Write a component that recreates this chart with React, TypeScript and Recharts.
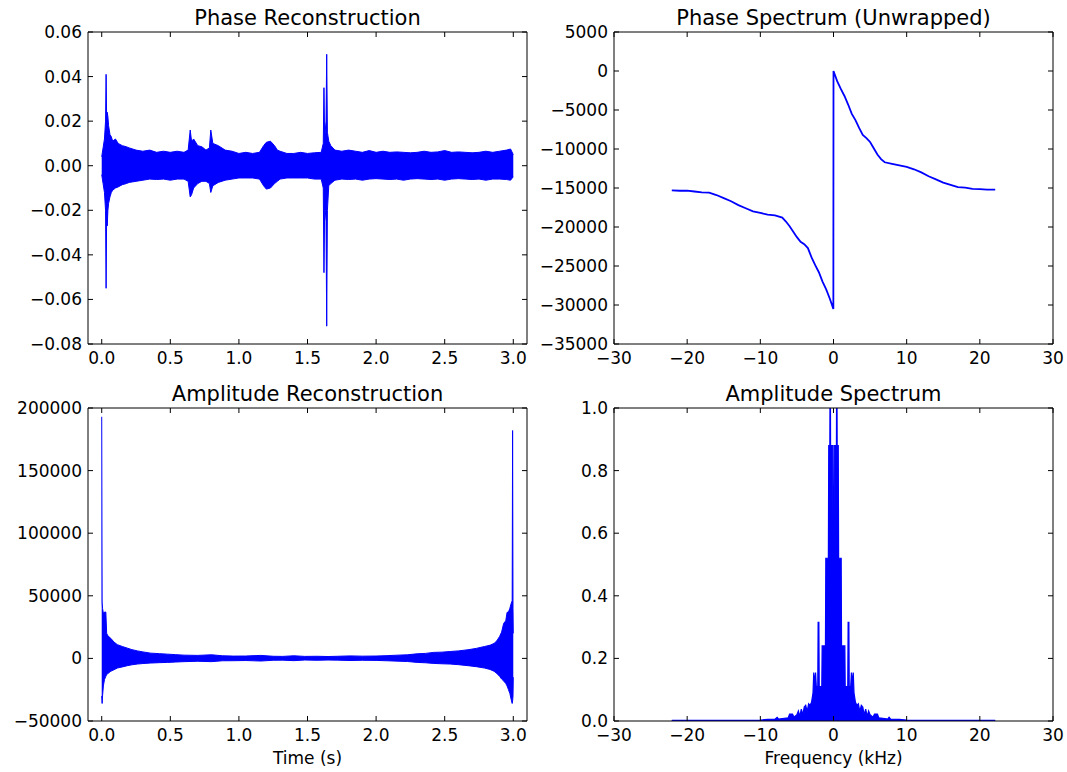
import React from 'react';
import { ComposedChart, Area, Line, XAxis, YAxis } from 'recharts';

const FONT = "'DejaVu Sans', sans-serif";
const BLUE = '#0000ff';

// ---------- Phase Reconstruction (time in s, envelope of the signal) ----------
const phaseTime = [
  0.0, 0.01, 0.02, 0.028, 0.032, 0.036, 0.04, 0.045, 0.05, 0.06,
  0.07, 0.08, 0.1, 0.12, 0.15, 0.18, 0.2, 0.25, 0.3, 0.35,
  0.4, 0.45, 0.5, 0.55, 0.6, 0.63, 0.645, 0.655, 0.67, 0.7,
  0.73, 0.76, 0.785, 0.795, 0.81, 0.85, 0.9, 0.95, 1.0, 1.05,
  1.1, 1.15, 1.18, 1.2, 1.23, 1.26, 1.28, 1.3, 1.35, 1.4,
  1.45, 1.5, 1.55, 1.6, 1.615, 1.62, 1.625, 1.63, 1.635, 1.64,
  1.645, 1.655, 1.67, 1.7, 1.75, 1.8, 1.85, 1.9, 1.95, 2.0,
  2.05, 2.1, 2.15, 2.2, 2.25, 2.3, 2.35, 2.4, 2.45, 2.5,
  2.55, 2.6, 2.65, 2.7, 2.75, 2.8, 2.85, 2.9, 2.95, 2.98, 3.0,
];
const phaseHi = [
  0.004, 0.008, 0.012, 0.02, 0.041, 0.02, 0.024, 0.022, 0.018, 0.014,
  0.013, 0.011, 0.012, 0.01, 0.009, 0.0085, 0.008, 0.007, 0.0065, 0.007,
  0.006, 0.0065, 0.006, 0.0065, 0.006, 0.007, 0.016, 0.011, 0.012, 0.009,
  0.0085, 0.007, 0.008, 0.016, 0.01, 0.009, 0.007, 0.0065, 0.0055, 0.006,
  0.0055, 0.006, 0.009, 0.0105, 0.011, 0.009, 0.007, 0.0065, 0.0055, 0.0055,
  0.006, 0.0055, 0.0058, 0.006, 0.01, 0.035, 0.012, 0.016, 0.02, 0.05,
  0.015, 0.011, 0.009, 0.007, 0.0065, 0.007, 0.0065, 0.006, 0.0068, 0.006,
  0.0065, 0.006, 0.0062, 0.006, 0.0058, 0.006, 0.0065, 0.006, 0.0062, 0.0068,
  0.006, 0.0062, 0.006, 0.0058, 0.006, 0.0065, 0.006, 0.0065, 0.007, 0.0075, 0.005,
];
const phaseLo = [
  -0.004, -0.008, -0.012, -0.02, -0.055, -0.02, -0.027, -0.02, -0.017, -0.014,
  -0.012, -0.011, -0.01, -0.0095, -0.0085, -0.008, -0.0075, -0.007, -0.0065, -0.006,
  -0.0062, -0.006, -0.0065, -0.006, -0.006, -0.007, -0.014, -0.013, -0.01, -0.008,
  -0.007, -0.007, -0.008, -0.012, -0.009, -0.0075, -0.0065, -0.006, -0.0055, -0.0055,
  -0.0055, -0.006, -0.009, -0.0105, -0.01, -0.008, -0.007, -0.006, -0.0055, -0.0055,
  -0.0055, -0.0055, -0.006, -0.006, -0.01, -0.048, -0.02, -0.02, -0.025, -0.072,
  -0.02, -0.009, -0.008, -0.0065, -0.006, -0.0062, -0.006, -0.0065, -0.006, -0.0058,
  -0.006, -0.0062, -0.006, -0.0065, -0.006, -0.0058, -0.006, -0.0062, -0.006, -0.0065,
  -0.006, -0.0058, -0.006, -0.0062, -0.006, -0.0065, -0.006, -0.006, -0.0062, -0.0065, -0.005,
];

// ---------- Phase Spectrum (Unwrapped) ----------
const specFreq = [
  -22.1, -21, -20, -19, -18, -17, -16, -15, -14, -13, -12, -11, -10, -9, -8, -7,
  -6.5, -6, -5.5, -5, -4.5, -4, -3.5, -3, -2.5, -2, -1.5, -1, -0.5, -0.02,
  0, 0.5, 1, 1.5, 2, 2.5, 3, 3.5, 4, 4.5, 5, 5.5, 6, 6.5, 7,
  8, 9, 10, 11, 12, 13, 14, 15, 16, 17, 18, 19, 20, 21, 22.1,
];
const specPhase = [
  -15300, -15350, -15350, -15450, -15550, -15600, -15900, -16300, -16700, -17200, -17600, -18000, -18200, -18400, -18500, -18800,
  -19300, -19900, -20600, -21300, -21900, -22200, -22700, -23900, -24900, -25800, -27000, -28000, -29200, -30500,
  0, -1300, -2300, -3200, -4300, -5500, -6300, -7300, -8200, -8600, -9100, -9900, -10700, -11300, -11700,
  -11900, -12100, -12300, -12600, -13000, -13500, -13900, -14300, -14600, -14900, -14950, -15100, -15150, -15200, -15200,
];

// ---------- Amplitude Reconstruction (envelope) ----------
const ampRecTime = [
  0, 0.003, 0.006, 0.012, 0.02, 0.03, 0.036, 0.045, 0.066, 0.09,
  0.114, 0.15, 0.187, 0.22, 0.26, 0.3, 0.357, 0.42, 0.48, 0.54,
  0.6, 0.7, 0.8, 0.88, 0.96, 1.05, 1.16, 1.25, 1.32, 1.4,
  1.48, 1.57, 1.65, 1.72, 1.81, 1.9, 2.0, 2.08, 2.16, 2.23,
  2.3, 2.36, 2.42, 2.48, 2.54, 2.6, 2.67, 2.73, 2.79, 2.83,
  2.86, 2.88, 2.9, 2.915, 2.93, 2.945, 2.955, 2.965, 2.975, 2.985,
  2.992, 2.995, 2.998, 3.0,
];
const ampRecHi = [
  193000, 45000, 40000, 36000, 37000, 37000, 20000, 18000, 16000, 13000,
  11000, 9500, 8200, 7000, 6000, 5200, 4200, 3800, 3400, 3000,
  2600, 2400, 2900, 2100, 1850, 1900, 2400, 1700, 1600, 2100,
  1600, 1700, 1500, 1700, 2000, 1800, 1900, 2200, 2600, 2900,
  3700, 4000, 4800, 5000, 5500, 6000, 6900, 8000, 9500, 10500,
  12000, 14000, 17500, 21000, 28000, 30000, 36800, 37000, 40000, 44000,
  46000, 182000, 40000, 20000,
];
const ampRecLo = [
  -30000, -36000, -30000, -22000, -17000, -14300, -13000, -12000, -10300, -9000,
  -7700, -6800, -5800, -5100, -4500, -4100, -3700, -3400, -3200, -2900,
  -2600, -2300, -2600, -1900, -1850, -1700, -2100, -1500, -1400, -1800,
  -1300, -1500, -1300, -1400, -1700, -1500, -1600, -1900, -2200, -2500,
  -3200, -3500, -4000, -4300, -4500, -5000, -5800, -6600, -7700, -8800,
  -10300, -12000, -14300, -16500, -18000, -20000, -22000, -25000, -28000, -33000,
  -36000, -34000, -30000, -15000,
];

// ---------- Amplitude Spectrum ----------
const magFreq = [
  -22.1, -12, -10, -9, -8, -7.7, -7.5, -7, -6.2, -6, -5.6, -5.4, -5, -4.8, -4.6, -4.4, -4.2, -4, -3.8, -3.6,
  -3.4, -3.2, -3.0, -2.8, -2.7, -2.55, -2.45, -2.35, -2.15, -2.1, -2.0, -1.95, -1.6, -1.55, -1.1, -1.05, -0.7, -0.65, -0.5, -0.47,
  -0.43, -0.4, -0.1, -0.02, 0.02, 0.1, 0.4, 0.43, 0.47, 0.5, 0.65, 0.7, 1.05, 1.1, 1.55, 1.6, 1.95, 2.0, 2.1, 2.15,
  2.35, 2.45, 2.55, 2.7, 2.8, 3.0, 3.2, 3.4, 3.6, 3.8, 4.0, 4.2, 4.4, 4.6, 4.8, 5.0, 5.4, 5.6, 6.0, 6.2,
  7.0, 7.4, 7.6, 7.8, 9, 10, 12, 22.1,
];
const magValue = [
  0.002, 0.002, 0.003, 0.005, 0.006, 0.012, 0.006, 0.008, 0.01, 0.022, 0.022, 0.012, 0.02, 0.032, 0.015, 0.038, 0.02, 0.045, 0.05, 0.03,
  0.055, 0.05, 0.06, 0.09, 0.155, 0.12, 0.155, 0.11, 0.11, 0.315, 0.315, 0.11, 0.11, 0.24, 0.24, 0.52, 0.52, 0.88, 0.88, 1.1,
  1.1, 0.88, 0.88, 0.26, 0.26, 0.88, 0.88, 1.1, 1.1, 0.88, 0.88, 0.52, 0.52, 0.24, 0.24, 0.11, 0.11, 0.315, 0.315, 0.11,
  0.11, 0.155, 0.12, 0.155, 0.09, 0.06, 0.05, 0.055, 0.03, 0.05, 0.045, 0.02, 0.038, 0.015, 0.032, 0.02, 0.012, 0.022, 0.022, 0.01,
  0.008, 0.006, 0.012, 0.006, 0.005, 0.003, 0.002, 0.002,
];

// ---------- axes ----------
const timeTicks = [0, 0.5, 1, 1.5, 2, 2.5, 3];
const freqTicks = [-30, -20, -10, 0, 10, 20, 30];
const phaseRecTicks = [-0.08, -0.06, -0.04, -0.02, 0, 0.02, 0.04, 0.06];
const phaseSpecTicks = [-35000, -30000, -25000, -20000, -15000, -10000, -5000, 0, 5000];
const ampRecTicks = [-50000, 0, 50000, 100000, 150000, 200000];
const magTicks = [0, 0.2, 0.4, 0.6, 0.8, 1.0];

const phaseRecData = phaseTime.map((t, i) => ({ x: t, band: [phaseLo[i], phaseHi[i]] }));
const phaseSpecData = specFreq.map((f, i) => ({ x: f, y: specPhase[i] }));
const ampRecData = ampRecTime.map((t, i) => ({ x: t, band: [ampRecLo[i], ampRecHi[i]] }));
const magData = magFreq.map((f, i) => ({ x: f, y: magValue[i] }));

const fmt = (d: number) => (v: number) => v.toFixed(d).replace('-', '\u2212');
const blank = () => '';

const tickStyle = { fill: '#000', fontSize: 17, fontFamily: FONT };

function Panel(props: any) {
  const { left, top, width, height, plot, data, xDomain, xTicks, xFmt, yDomain, yTicks, yFmt, title, xLabel, children } = props;
  const mTop = plot.y0 - top - 1;
  const yW = plot.x0 - left;
  const mRight = left + width - plot.x1 - 1;
  const xH = top + height - plot.y1;
  return (
    <div style={{ position: 'absolute', left, top, width, height }}>
      <ComposedChart width={width} height={height} data={data} margin={{ top: mTop, right: mRight, bottom: 0, left: 0 }}>
        <XAxis
          xAxisId="b" dataKey="x" type="number" domain={xDomain} ticks={xTicks} interval={0}
          allowDataOverflow height={xH} tickSize={-5} tickMargin={13} tickFormatter={xFmt}
          axisLine={{ stroke: '#000' }} tickLine={{ stroke: '#000' }} tick={tickStyle}
          label={xLabel ? { value: xLabel, position: 'insideBottom', offset: 8, fill: '#000', fontSize: 17, fontFamily: FONT } : undefined}
        />
        <XAxis
          xAxisId="t" orientation="top" dataKey="x" type="number" domain={xDomain} ticks={xTicks} interval={0}
          allowDataOverflow height={1} tickSize={-5} tickFormatter={blank}
          axisLine={{ stroke: '#000' }} tickLine={{ stroke: '#000' }} tick={tickStyle}
          label={{ value: title, position: 'top', offset: 6, fill: '#000', fontSize: 21, fontFamily: FONT }}
        />
        <YAxis
          yAxisId="l" type="number" domain={yDomain} ticks={yTicks} interval={0} allowDataOverflow
          width={yW} tickSize={-5} tickMargin={11} tickFormatter={yFmt}
          axisLine={{ stroke: '#000' }} tickLine={{ stroke: '#000' }} tick={tickStyle}
        />
        <YAxis
          yAxisId="r" orientation="right" type="number" domain={yDomain} ticks={yTicks} interval={0} allowDataOverflow
          width={1} tickSize={-5} tickFormatter={blank}
          axisLine={{ stroke: '#000' }} tickLine={{ stroke: '#000' }} tick={tickStyle}
        />
        <Line xAxisId="t" yAxisId="r" dataKey="x" stroke="none" strokeWidth={0} dot={false}
          activeDot={false} isAnimationActive={false} legendType="none" />
        {children}
      </ComposedChart>
    </div>
  );
}

export default function App() {
  return (
    <div style={{ position: 'absolute', left: 0, top: 0, width: 1067, height: 772, background: '#fff', fontFamily: FONT }}>
      <Panel
        left={0} top={0} width={540} height={380} plot={{ x0: 88, x1: 527, y0: 32, y1: 344 }}
        data={phaseRecData} xDomain={[-0.1, 3.1]} xTicks={timeTicks} xFmt={fmt(1)}
        yDomain={[-0.08, 0.06]} yTicks={phaseRecTicks} yFmt={fmt(2)} title="Phase Reconstruction"
      >
        <Area xAxisId="b" yAxisId="l" dataKey="band" type="linear" stroke={BLUE} strokeWidth={1}
          fill={BLUE} fillOpacity={1} dot={false} activeDot={false} isAnimationActive={false} />
      </Panel>
      <Panel
        left={540} top={0} width={527} height={380} plot={{ x0: 614, x1: 1053, y0: 32, y1: 344 }}
        data={phaseSpecData} xDomain={[-30, 30]} xTicks={freqTicks} xFmt={fmt(0)}
        yDomain={[-35000, 5000]} yTicks={phaseSpecTicks} yFmt={fmt(0)} title="Phase Spectrum (Unwrapped)"
      >
        <Line xAxisId="b" yAxisId="l" dataKey="y" type="linear" stroke={BLUE} strokeWidth={1.8}
          dot={false} activeDot={false} isAnimationActive={false} />
      </Panel>
      <Panel
        left={0} top={380} width={540} height={392} plot={{ x0: 88, x1: 527, y0: 408, y1: 721 }}
        data={ampRecData} xDomain={[-0.1, 3.1]} xTicks={timeTicks} xFmt={fmt(1)}
        yDomain={[-50000, 200000]} yTicks={ampRecTicks} yFmt={fmt(0)} title="Amplitude Reconstruction"
        xLabel="Time (s)"
      >
        <Area xAxisId="b" yAxisId="l" dataKey="band" type="linear" stroke={BLUE} strokeWidth={1}
          fill={BLUE} fillOpacity={1} dot={false} activeDot={false} isAnimationActive={false} />
      </Panel>
      <Panel
        left={540} top={380} width={527} height={392} plot={{ x0: 614, x1: 1053, y0: 408, y1: 721 }}
        data={magData} xDomain={[-30, 30]} xTicks={freqTicks} xFmt={fmt(0)}
        yDomain={[0, 1]} yTicks={magTicks} yFmt={fmt(1)} title="Amplitude Spectrum"
        xLabel="Frequency (kHz)"
      >
        <Area xAxisId="b" yAxisId="l" dataKey="y" type="linear" stroke={BLUE} strokeWidth={1.2}
          fill={BLUE} fillOpacity={1} baseValue={0} dot={false} activeDot={false} isAnimationActive={false} />
      </Panel>
    </div>
  );
}
